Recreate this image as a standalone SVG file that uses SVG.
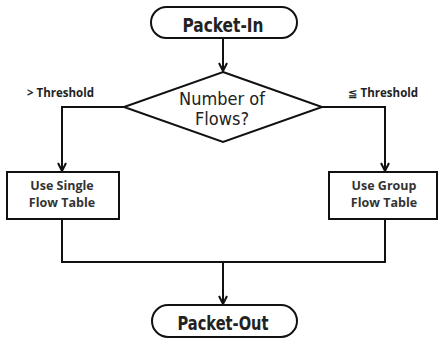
<svg xmlns="http://www.w3.org/2000/svg" width="438" height="339" viewBox="0 0 438 339">
<defs>
<marker id="arr" viewBox="0 0 10 10" refX="9" refY="5" markerWidth="10" markerHeight="10" markerUnits="userSpaceOnUse" orient="auto">
<path d="M1,1 L9,5 L1,9" fill="none" stroke="#111" stroke-width="2"/>
</marker>
<style>
.shape{fill:#fff;stroke:#111;stroke-width:2}
.conn{fill:none;stroke:#111;stroke-width:2}
.term{font-family:"DejaVu Sans Condensed","DejaVu Sans",sans-serif;font-weight:bold;font-size:20px;fill:#222;text-anchor:middle}
.dec{font-family:"DejaVu Sans Condensed","DejaVu Sans",sans-serif;font-size:18px;fill:#222;text-anchor:middle}
.box{font-family:"Open Sans","Liberation Sans",sans-serif;font-weight:bold;font-size:12.5px;fill:#333;text-anchor:middle}
.lbl{font-family:"Open Sans","DejaVu Sans",sans-serif;font-weight:bold;font-size:11.5px;fill:#222}
</style>
</defs>
<rect width="438" height="339" fill="#fff"/>
<g id="connectors">
<path class="conn" d="M223,38 V71" marker-end="url(#arr)"/>
<path class="conn" d="M124,107 H62 V171" marker-end="url(#arr)"/>
<path class="conn" d="M322,107 H385 V171" marker-end="url(#arr)"/>
<path class="conn" d="M62,219 V262 H385 V219"/>
<path class="conn" d="M223,262 V304" marker-end="url(#arr)"/>
<text class="lbl" x="27" y="97">&gt; Threshold</text>
<text class="lbl" x="348" y="97">≦ Threshold</text>
</g>
<g id="packet-in">
<rect class="shape" x="151" y="7" width="146" height="31" rx="15.5"/>
<text class="term" x="223" y="32" textLength="81" lengthAdjust="spacingAndGlyphs">Packet-In</text>
</g>
<g id="decision">
<polygon class="shape" points="223,72 322,107 223,142 124,107"/>
<text class="dec" x="222" y="105">Number of</text>
<text class="dec" x="222" y="125">Flows?</text>
</g>
<g id="single">
<rect class="shape" x="7" y="172" width="112" height="47"/>
<text class="box" x="62" y="190">Use Single</text>
<text class="box" x="62" y="207">Flow Table</text>
</g>
<g id="group">
<rect class="shape" x="329" y="172" width="108" height="47"/>
<text class="box" x="384" y="190">Use Group</text>
<text class="box" x="384" y="207">Flow Table</text>
</g>
<g id="packet-out">
<rect class="shape" x="152" y="305" width="145" height="32" rx="16"/>
<text class="term" x="223" y="330" textLength="91" lengthAdjust="spacingAndGlyphs">Packet-Out</text>
</g>
</svg>
